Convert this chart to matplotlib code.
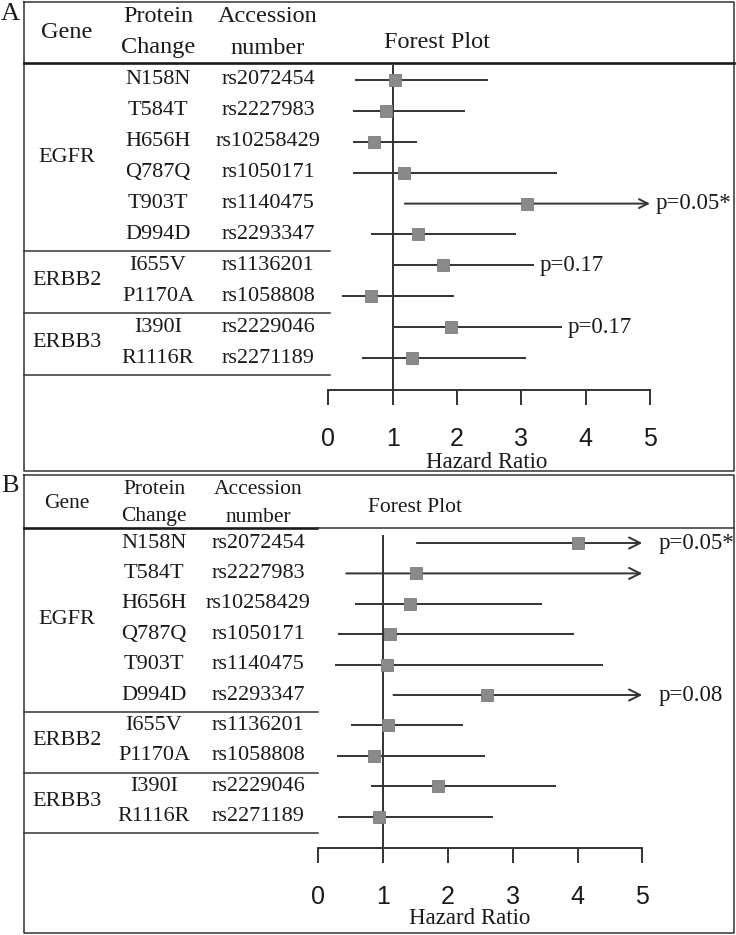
"""
Forest plots A / B: hazard ratios of EGFR / ERBB2 / ERBB3 SNPs
"""
import numpy as np
import matplotlib
matplotlib.use("Agg")
import matplotlib.pyplot as plt

W, H = 736, 935
SERIF = "Liberation Serif"
SANS = "Liberation Sans"
INK = "#1a1a1a"
LINE = "#333333"

# ── data ───────────────────────────────────────────────────────────────────
genes = ["EGFR", "ERBB2", "ERBB3"]
gene_rows = [(0, 5), (6, 7), (8, 9)]
changes = ["N158N", "T584T", "H656H", "Q787Q", "T903T", "D994D",
           "I655V", "P1170A", "I390I", "R1116R"]
accessions = ["rs2072454", "rs2227983", "rs10258429", "rs1050171", "rs1140475",
              "rs2293347", "rs1136201", "rs1058808", "rs2229046", "rs2271189"]

hr_a = [1.03, 0.89, 0.71, 1.17, 3.09, 1.39, 1.79, 0.66, 1.90, 1.30]
lo_a = [0.41, 0.38, 0.38, 0.38, 1.19, 0.66, 1.00, 0.22, 1.00, 0.53]
hi_a = [2.48, 2.13, 1.38, 3.56, 5.00, 2.92, 3.19, 1.96, 3.63, 3.08]
arrow_a = [False, False, False, False, True, False, False, False, False, False]
p_a = ["", "", "", "", "p=0.05*", "", "p=0.17", "", "p=0.17", ""]

hr_b = [4.00, 1.51, 1.42, 1.11, 1.06, 2.61, 1.07, 0.86, 1.85, 0.94]
lo_b = [1.52, 0.43, 0.57, 0.31, 0.25, 1.16, 0.50, 0.29, 0.81, 0.31]
hi_b = [5.00, 5.00, 3.45, 3.95, 4.40, 5.00, 2.24, 2.57, 3.67, 2.69]
arrow_b = [True, True, False, False, False, True, False, False, False, False]
p_b = ["p=0.05*", "", "", "", "", "p=0.08", "", "", "", ""]

fig = plt.figure(figsize=(W / 100, H / 100), dpi=100)

# overlay in pixel coordinates for the table part
tab = fig.add_axes([0, 0, 1, 1])
tab.set_xlim(0, W)
tab.set_ylim(H, 0)
tab.axis("off")


def draw_panel(cfg, hr, lo, hi, arrows, pvals):
    top, bot = cfg["box"]
    # outer box
    tab.plot([24, 734, 734, 24, 24], [top, top, bot, bot, top], color=LINE, lw=1.1)
    tab.text(10, cfg["letter_y"], cfg["letter"], fontsize=19, family=SERIF,
             color=INK, ha="center", va="center")
    # header
    hy = cfg["header_y"]
    tab.plot([24, cfg["thick_to"]], [hy, hy], color=INK, lw=1.9)
    tab.plot([cfg["thick_to"], 734], [hy, hy], color=LINE, lw=cfg["thin_lw"])
    fs_h = cfg["head_fs"]
    tab.text(67, cfg["h_mid"], "Gene", fontsize=fs_h, family=SERIF, color=INK,
             ha="center", va="center")
    for xc, t1, t2 in [(cfg["col2"], "Protein", "Change"),
                       (cfg["col3"], "Accession", "number")]:
        tab.text(xc, cfg["h1"], t1, fontsize=fs_h, family=SERIF, color=INK,
                 ha="center", va="center")
        tab.text(xc, cfg["h2"], t2, fontsize=fs_h, family=SERIF, color=INK,
                 ha="center", va="center")
    tab.text(cfg["fp_x"], cfg["fp_y"], "Forest Plot", fontsize=cfg["fp_fs"],
             family=SERIF, color=INK, ha="center", va="center")

    row0, step = cfg["row0"], cfg["step"]
    rows_px = [row0 + i * step for i in range(len(changes))]
    for i, (c, a) in enumerate(zip(changes, accessions)):
        tab.text(cfg["col2"], rows_px[i], c, fontsize=16, family=SERIF,
                 color=INK, ha="center", va="center")
        tab.text(cfg["col3"], rows_px[i], a, fontsize=16, family=SERIF,
                 color=INK, ha="center", va="center")
    for g, (r0, r1) in zip(genes, gene_rows):
        tab.text(67, (rows_px[r0] + rows_px[r1]) / 2, g, fontsize=16,
                 family=SERIF, color=INK, ha="center", va="center")
        ysep = rows_px[r1] + step * 0.55
        tab.plot([24, cfg["sep_to"]], [ysep, ysep], color=LINE, lw=1.1)

    # forest axes, mapped so that HR 0..5 sits on x0px..x5px
    x0px, x5px = cfg["x0px"], cfg["x5px"]
    scale = (x5px - x0px) / 5
    left, right = 290, 734
    ytop, ybot = hy + 2, bot - 2
    ax = fig.add_axes([left / W, 1 - ybot / H, (right - left) / W, (ybot - ytop) / H])
    ax.patch.set_visible(False)
    ax.set_xlim((left - x0px) / scale, (right - x0px) / scale)
    ax.set_ylim((ybot - row0) / step, (ytop - row0) / step)
    idx = np.arange(len(hr))
    axis_row = (cfg["axis_y"] - row0) / step

    for s in ["top", "right", "left"]:
        ax.spines[s].set_visible(False)
    ax.spines["bottom"].set_position(("data", axis_row))
    ax.spines["bottom"].set_bounds(0, 5)
    ax.spines["bottom"].set_color(LINE)
    ax.spines["bottom"].set_linewidth(1.4)
    ax.set_yticks([])
    ax.set_xticks(range(6))
    ax.set_xticklabels([str(v) for v in range(6)], family=SANS, fontsize=18,
                       color=INK)
    ax.tick_params(axis="x", direction="out", length=10.8, width=1.4,
                   color=LINE, pad=15.5)

    ax.vlines(1, (cfg["ref_top"] - row0) / step, axis_row, color=LINE, lw=1.4)
    for i in idx:
        if arrows[i]:
            ax.annotate("", xy=(hi[i], i), xytext=(lo[i], i),
                        arrowprops=dict(arrowstyle="->", color=LINE, lw=1.4,
                                        mutation_scale=cfg["head"],
                                        shrinkA=0, shrinkB=0))
        else:
            ax.hlines(i, lo[i], hi[i], color=LINE, lw=1.4)
        if pvals[i]:
            ax.annotate(pvals[i], xy=(hi[i], i), xytext=(cfg["p_off"], 0),
                        textcoords="offset points", fontsize=16.5,
                        family=SERIF, color=INK, ha="left", va="center")
    ax.plot(hr, idx, "s", color="#8a8a8a", ms=9, mec="#7a7a7a", mew=0.6,
            zorder=3)

    tab.text(cfg["hr_x"], cfg["hr_y"], "Hazard Ratio", fontsize=16.5,
             family=SERIF, color=INK, ha="center", va="center")


panel_a = dict(box=(2, 471), letter="A", letter_y=14, header_y=63, thick_to=734,
               thin_lw=1.9, head_fs=17.5, h_mid=33, h1=17, h2=48, col2=158,
               col3=268, fp_x=437, fp_y=43, fp_fs=17.5, row0=80, step=30.9,
               sep_to=330, x0px=328.3, x5px=650, axis_y=390, ref_top=63,
               head=16, p_off=4, hr_x=487, hr_y=462)
panel_b = dict(box=(475, 933), letter="B", letter_y=486, header_y=528,
               thick_to=317, thin_lw=1.1, head_fs=15.5, h_mid=503, h1=490,
               h2=517, col2=154, col3=258, fp_x=415, fp_y=507, fp_fs=15.5,
               row0=543, step=30.4, sep_to=318, x0px=318.3, x5px=642.3,
               axis_y=848, ref_top=535, head=20, p_off=12, hr_x=470, hr_y=918)

draw_panel(panel_a, hr_a, lo_a, hi_a, arrow_a, p_a)
draw_panel(panel_b, hr_b, lo_b, hi_b, arrow_b, p_b)

fig.savefig("out.png", dpi=100)
plt.close(fig)
